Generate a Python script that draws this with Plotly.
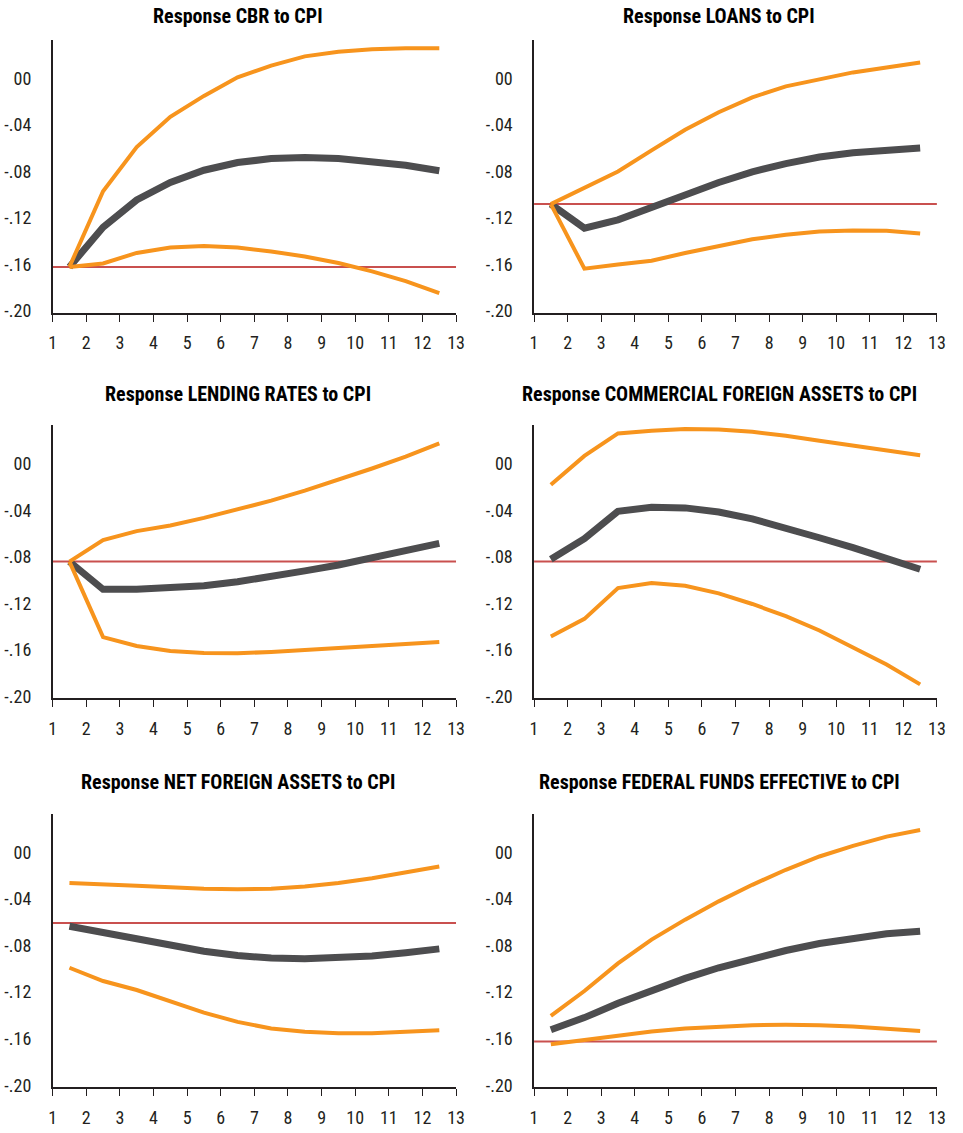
import plotly.graph_objects as go

# ---------------- data ----------------
periods = [1.5, 2.5, 3.5, 4.5, 5.5, 6.5, 7.5, 8.5, 9.5, 10.5, 11.5, 12.5]

titles = [
    "Response CBR to CPI",
    "Response LOANS to CPI",
    "Response LENDING RATES to CPI",
    "Response COMMERCIAL FOREIGN ASSETS to CPI",
    "Response NET FOREIGN ASSETS to CPI",
    "Response FEDERAL FUNDS EFFECTIVE to CPI",
]

cbr_upper = [-0.162, -0.097, -0.059, -0.033, -0.015, 0.001, 0.011, 0.019, 0.023, 0.025, 0.026, 0.026]
cbr_mid = [-0.162, -0.128, -0.1045, -0.0894, -0.0789, -0.0723, -0.0689, -0.068, -0.0689, -0.0712, -0.0746, -0.0794]
cbr_lower = [-0.162, -0.159, -0.150, -0.1453, -0.1441, -0.1453, -0.1487, -0.153, -0.1587, -0.1658, -0.1743, -0.1846]

loans_upper = [-0.108, -0.094, -0.080, -0.0618, -0.0441, -0.029, -0.0162, -0.0068, -0.0005, 0.0052, 0.0095, 0.0138]
loans_mid = [-0.108, -0.1287, -0.1216, -0.1116, -0.1002, -0.0894, -0.0803, -0.0732, -0.0675, -0.0638, -0.0612, -0.0598]
loans_lower = [-0.108, -0.1635, -0.160, -0.1567, -0.1501, -0.1444, -0.1382, -0.1344, -0.1316, -0.1307, -0.131, -0.1333]

lend_upper = [-0.084, -0.0655, -0.0578, -0.0529, -0.0464, -0.0393, -0.0316, -0.023, -0.0136, -0.0039, 0.0063, 0.0177]
lend_mid = [-0.084, -0.1079, -0.1079, -0.1071, -0.1048, -0.1014, -0.0971, -0.092, -0.0869, -0.0806, -0.0743, -0.0683]
lend_lower = [-0.084, -0.149, -0.1567, -0.161, -0.1627, -0.1629, -0.1618, -0.1604, -0.1584, -0.1567, -0.1547, -0.1533]

cfa_upper = [-0.0179, 0.0069, 0.0263, 0.0286, 0.030, 0.0297, 0.0277, 0.0243, 0.020, 0.0157, 0.0115, 0.0075]
cfa_mid = [-0.082, -0.0643, -0.0407, -0.0373, -0.0378, -0.0413, -0.0472, -0.0549, -0.0635, -0.072, -0.0806, -0.0906]
cfa_lower = [-0.1484, -0.1333, -0.1068, -0.1025, -0.1048, -0.1114, -0.1205, -0.131, -0.1433, -0.1575, -0.1726, -0.1897]

nfa_upper = [-0.0264, -0.0279, -0.0287, -0.0299, -0.0313, -0.0318, -0.0313, -0.0293, -0.0264, -0.0222, -0.0173, -0.0122]
nfa_mid = [-0.0635, -0.0692, -0.0735, -0.0792, -0.0849, -0.0886, -0.0908, -0.0914, -0.0908, -0.0891, -0.0863, -0.0829]
nfa_lower = [-0.0991, -0.1105, -0.1182, -0.1276, -0.1376, -0.1456, -0.1513, -0.1541, -0.1553, -0.1553, -0.1541, -0.1527]

ffe_upper = [-0.1404, -0.1191, -0.0954, -0.0749, -0.0578, -0.0421, -0.0279, -0.015, -0.0036, 0.0055, 0.0135, 0.0192]
ffe_mid = [-0.1524, -0.1419, -0.1296, -0.1182, -0.1082, -0.0991, -0.0911, -0.0843, -0.0783, -0.0735, -0.070, -0.0678]
ffe_lower = [-0.1647, -0.161, -0.157, -0.1538, -0.1513, -0.1496, -0.1484, -0.1481, -0.1484, -0.1496, -0.1513, -0.1535]

reference_levels = [-0.162, -0.108, -0.084, -0.084, -0.0606, -0.1624]

upper_bands = [cbr_upper, loans_upper, lend_upper, cfa_upper, nfa_upper, ffe_upper]
responses = [cbr_mid, loans_mid, lend_mid, cfa_mid, nfa_mid, ffe_mid]
lower_bands = [cbr_lower, loans_lower, lend_lower, cfa_lower, nfa_lower, ffe_lower]

y_tickvals = [-0.20, -0.16, -0.12, -0.08, -0.04, 0.00]
y_ticktext = ["-.20", "-.16", "-.12", "-.08", "-.04", "00"]
x_ticks = list(range(1, 14))

# secondary tick-mark scale per panel: (range, tick values)
tick_scales = [
    ([0, 6], [0, 1, 2, 3, 4, 5, 6]),
    ([0, 5], [0, 1, 2, 3, 4, 5]),
    ([0, 6], [0, 1, 2, 3, 4, 5, 6]),
    ([-0.755, 6.745], [0, 1, 2, 3, 4, 5, 6]),
    ([0, 5], [0, 1, 2, 3, 4, 5]),
    ([0, 6], [0, 1, 2, 3, 4, 5, 6]),
]

# ---------------- style ----------------
W, H = 963, 1133
ORANGE = "#F7941D"
DARK = "#4D4D4F"
RED = "#C9504F"
FONT = "Roboto Condensed, Roboto, Liberation Sans, Arial"

x_dom_px = [(49.3, 458.3), (537.3, 945.7)]
y_dom_px = [(40, 315.3), (428.3, 703.3), (819.3, 1095)]
title_pos_px = [(237.5, 16), (725, 16), (237.5, 397), (725, 397), (237.5, 788), (725, 788)]

y_range = [-0.2017, 0.0333]

fig = go.Figure()
layout = dict(
    width=W, height=H,
    margin=dict(l=0, r=0, t=0, b=0),
    paper_bgcolor="white", plot_bgcolor="white",
    showlegend=False,
    font=dict(family=FONT, size=18, color="#231F20"),
    annotations=[],
)

for i in range(6):
    r, c = divmod(i, 2)
    k = i + 1
    sfx = "" if k == 1 else str(k)
    xd = [x_dom_px[c][0] / W, x_dom_px[c][1] / W]
    yd = [1 - y_dom_px[r][1] / H, 1 - y_dom_px[r][0] / H]
    xname, yname = "x" + sfx, "y" + sfx
    tk = 6 + k

    layout["xaxis" + sfx] = dict(
        domain=xd, anchor=yname, range=[1, 13], tickvals=x_ticks,
        showline=True, linecolor="#231F20", linewidth=1.5,
        ticks="outside", ticklen=7, tickwidth=1.3, tickcolor="#231F20",
        showgrid=False, zeroline=False, ticklabelstandoff=6,
        tickfont=dict(size=18),
    )
    layout["yaxis" + sfx] = dict(
        domain=yd, anchor=xname, range=y_range,
        tickvals=y_tickvals, ticktext=y_ticktext,
        showline=True, linecolor="#231F20", linewidth=1.5,
        ticks="", showgrid=False, zeroline=False,
        ticklabelstandoff=16, tickfont=dict(size=18),
    )
    layout["yaxis" + str(tk)] = dict(
        overlaying=yname, anchor=xname, side="left",
        range=tick_scales[i][0], tickvals=tick_scales[i][1],
        showticklabels=False, ticks="outside", ticklen=6, tickwidth=1.3,
        tickcolor="#231F20", showline=False, showgrid=False, zeroline=False,
    )

    fig.add_trace(go.Scatter(
        x=[x_ticks[0], x_ticks[-1]], y=[reference_levels[i]] * 2,
        mode="lines", line=dict(color=RED, width=2),
        xaxis=xname, yaxis=yname, hoverinfo="skip"))
    fig.add_trace(go.Scatter(
        x=periods, y=responses[i], mode="lines",
        line=dict(color=DARK, width=7), xaxis=xname, yaxis=yname))
    fig.add_trace(go.Scatter(
        x=periods, y=upper_bands[i], mode="lines",
        line=dict(color=ORANGE, width=4), xaxis=xname, yaxis=yname))
    fig.add_trace(go.Scatter(
        x=periods, y=lower_bands[i], mode="lines",
        line=dict(color=ORANGE, width=4), xaxis=xname, yaxis=yname))

    tx, ty = title_pos_px[i]
    layout["annotations"].append(dict(
        text="<b>" + titles[i] + "</b>", xref="paper", yref="paper",
        x=tx / W, y=1 - ty / H, xanchor="center", yanchor="middle",
        showarrow=False, font=dict(size=20, family=FONT, color="#000000")))

fig.update_layout(**layout)
fig.write_html(
    "out.html",
    config={"displayModeBar": False},
    post_script="document.body.style.margin='0';document.body.style.overflow='hidden';",
)
